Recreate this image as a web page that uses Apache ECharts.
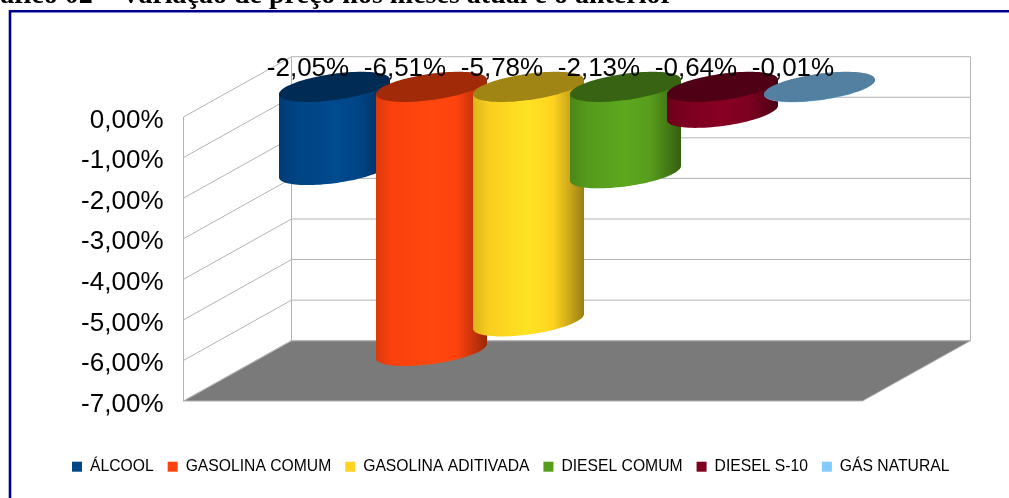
<!DOCTYPE html>
<html>
<head>
<meta charset="utf-8">
<style>
  html, body { margin: 0; padding: 0; background: #fff; overflow: hidden; }
  #chart { width: 1009px; height: 498px; }
</style>
<script src="https://cdn.jsdelivr.net/npm/echarts@6/dist/echarts.min.js"></script>
</head>
<body>
<div id="chart"></div>
<script>
const categories = ['ÁLCOOL', 'GASOLINA COMUM', 'GASOLINA ADITIVADA', 'DIESEL COMUM', 'DIESEL S-10', 'GÁS NATURAL']
const variation = [-2.05, -6.51, -5.78, -2.13, -0.64, -0.01]
const yTicks = [0, -1, -2, -3, -4, -5, -6, -7]
const colors = ['#004586', '#ff420e', '#ffd320', '#579d1c', '#7e0021', '#83caff']

// fake 3d: how far the back wall sits from the front plane
const DEPTH_X = 108
const DEPTH_Y = 60.3
const FONT = '"Liberation Sans", Arial, sans-serif'
const GRID_LINE = '#b3b3b3'

const fmt = v => v.toFixed(2).replace('.', ',') + '%'

const shade = (hex, k) => {
  const n = parseInt(hex.slice(1), 16)
  const c = [n >> 16, (n >> 8) & 255, n & 255].map(x => Math.min(255, Math.round(x * k)))
  return `rgb(${c.join(',')})`
}

// point on the tilted ellipse of a cylinder section
const ellipse = (c, rx, t) => [
  c[0] + Math.cos(t) * rx + Math.sin(t) * DEPTH_X / 4,
  c[1] - Math.sin(t) * DEPTH_Y / 4
]

const renderWall = (params, api) => {
  const v = api.value(0)
  const a = api.coord([0, v])
  const b = [a[0] + DEPTH_X, a[1] - DEPTH_Y]
  const e = api.coord([7, v])
  const c = [e[0] + DEPTH_X, e[1] - DEPTH_Y]
  const lineStyle = { fill: 'none', stroke: GRID_LINE, lineWidth: 1 }
  const children = [{ type: 'polyline', shape: { points: [a, b, c] }, style: lineStyle }]
  if (v === yTicks[0]) {
    const bottom = api.coord([0, yTicks[yTicks.length - 1]])
    const bottomEnd = api.coord([7, yTicks[yTicks.length - 1]])
    children.push({
      type: 'polyline',
      shape: { points: [[a[0], bottom[1]], a] },
      style: lineStyle
    })
    children.push({
      type: 'polyline',
      shape: { points: [[b[0], bottom[1] - DEPTH_Y], b] },
      style: lineStyle
    })
    children.push({
      type: 'polyline',
      shape: { points: [[c[0], bottom[1] - DEPTH_Y], c] },
      style: lineStyle
    })
    children.unshift({
      type: 'polygon',
      shape: {
        points: [
          bottom,
          bottomEnd,
          [bottomEnd[0] + DEPTH_X, bottomEnd[1] - DEPTH_Y],
          [bottom[0] + DEPTH_X, bottom[1] - DEPTH_Y]
        ]
      },
      style: { fill: '#7a7a7a', stroke: GRID_LINE, lineWidth: 1 }
    })
  }
  return { type: 'group', children }
}

const renderCylinder = color => (params, api) => {
  const x = api.value(0)
  const rx = api.size([1, 0])[0] / 2
  const top = api.coord([x, 0])
  const bot = api.coord([x, api.value(1)])
  const topC = [top[0] + DEPTH_X / 2, top[1] - DEPTH_Y / 2]
  const botC = [bot[0] + DEPTH_X / 2, bot[1] - DEPTH_Y / 2]
  const t0 = Math.atan2(DEPTH_X / 4, rx)

  const body = []
  for (let i = 0; i <= 48; i++) {
    body.push(ellipse(botC, rx, t0 - Math.PI * i / 48))
  }
  body.push(ellipse(topC, rx, t0 - Math.PI))
  body.push(ellipse(topC, rx, t0))

  const cap = []
  for (let i = 0; i < 96; i++) {
    cap.push(ellipse(topC, rx, Math.PI * 2 * i / 96))
  }

  return {
    type: 'group',
    children: [
      {
        type: 'polygon',
        shape: { points: body },
        style: {
          fill: new echarts.graphic.LinearGradient(0, 0, 1, 0, [
            { offset: 0, color: shade(color, 0.86) },
            { offset: 0.15, color: shade(color, 0.98) },
            { offset: 0.5, color: shade(color, 1.07) },
            { offset: 0.72, color: shade(color, 1) },
            { offset: 0.88, color: shade(color, 0.78) },
            { offset: 1, color: shade(color, 0.6) }
          ])
        }
      },
      { type: 'polygon', shape: { points: cap }, style: { fill: shade(color, 0.63) } }
    ]
  }
}

const renderLabel = (params, api) => {
  const p = api.coord([api.value(0), 0])
  return {
    type: 'text',
    style: {
      text: fmt(api.value(1)),
      x: p[0] + DEPTH_X / 2 - 26.5,
      y: p[1] - DEPTH_Y / 2 - 18.5,
      textAlign: 'center',
      textVerticalAlign: 'middle',
      font: '26px ' + FONT,
      fill: '#000'
    }
  }
}

const myChart = echarts.init(document.getElementById('chart'), null, { renderer: 'canvas' })

const series = [
  {
    type: 'custom',
    silent: true,
    z: 1,
    renderItem: renderWall,
    encode: { y: 0 },
    data: yTicks.map(v => [v])
  }
]
categories.forEach((name, i) => {
  series.push({
    name,
    type: 'custom',
    silent: true,
    z: 2 + i,
    itemStyle: { color: colors[i] },
    renderItem: renderCylinder(colors[i]),
    encode: { x: 0, y: 1 },
    data: [[i + 1, variation[i]]]
  })
})
series.push({
  type: 'custom',
  silent: true,
  z: 20,
  renderItem: renderLabel,
  encode: { x: 0, y: 1 },
  data: variation.map((v, i) => [i + 1, v])
})

myChart.setOption({
  animation: false,
  title: {
    text: 'Gráfico 02 – Variação de preço nos meses atual e o anterior',
    left: -34,
    top: -18.5,
    padding: 0,
    textStyle: {
      fontFamily: '"Liberation Serif", serif',
      fontWeight: 'bold',
      fontSize: 28,
      color: '#000'
    }
  },
  grid: { left: 183.5, top: 117, width: 679, height: 284 },
  xAxis: { type: 'value', min: 0, max: 7, show: false },
  yAxis: {
    type: 'value',
    min: yTicks[yTicks.length - 1],
    max: yTicks[0],
    interval: 1,
    axisLine: { show: false },
    axisTick: { show: false },
    splitLine: { show: false },
    axisLabel: {
      margin: 20,
      fontSize: 26,
      fontFamily: FONT,
      color: '#000',
      verticalAlign: 'top',
      lineHeight: 7,
      formatter: v => fmt(v)
    }
  },
  legend: {
    data: categories,
    left: 72,
    top: 458.7,
    padding: 0,
    icon: 'rect',
    itemWidth: 10,
    itemHeight: 10,
    itemGap: 14,
    selectedMode: false,
    textStyle: { fontSize: 15.7, fontFamily: FONT, color: '#000', padding: [0, 0, 0, 3] }
  },
  graphic: [
    {
      type: 'rect',
      silent: true,
      shape: { x: 10, y: 11.3, width: 1100, height: 600 },
      style: { fill: 'none', stroke: '#00008f', lineWidth: 2.6 }
    }
  ],
  series
})
</script>
</body>
</html>
